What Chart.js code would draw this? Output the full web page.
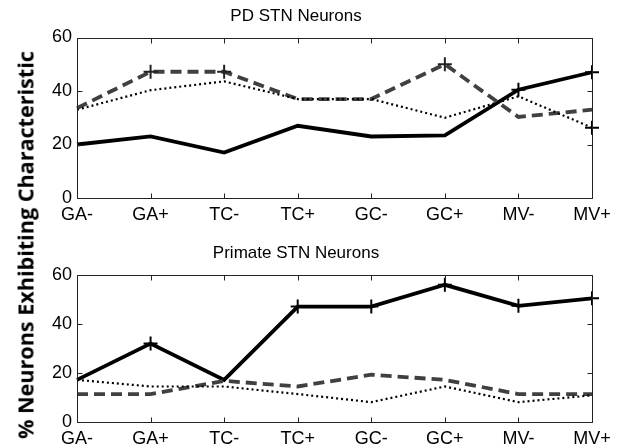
<!DOCTYPE html>
<html><head><meta charset="utf-8">
<script src="https://cdn.jsdelivr.net/npm/chart.js@4/dist/chart.umd.min.js"></script>
<style>
body{margin:0;background:#fff;width:627px;height:448px;overflow:hidden;position:relative;}
.wrap{position:absolute;left:0;width:627px;height:224px;}
#ylab{position:absolute;left:25px;top:245px;transform:translate(-50%,-50%) rotate(-90deg);white-space:nowrap;font-weight:bold;font-family:"Open Sans",sans-serif;color:#000;}
</style>
</head><body>
<div class="wrap" style="top:0"><canvas id="c1" width="627" height="224"></canvas></div>
<div class="wrap" style="top:224px"><canvas id="c2" width="627" height="224"></canvas></div>
<div id="ylab">% Neurons Exhibiting Characteristic</div>
<script>
const categories = ["GA-","GA+","TC-","TC+","GC-","GC+","MV-","MV+"];
const yTicks = [0,20,40,60];

const pdTitle = "PD STN Neurons";
const pdSolid  = [20, 23, 17, 27, 23, 23.4, 40.5, 47];
const pdDashed = [33.6, 47.2, 47.2, 37, 37, 50, 30.3, 33];
const pdDotted = [33, 40.3, 43.6, 37, 37, 30, 38, 26.3];
const pdSolidMarks  = [6, 7];
const pdDashedMarks = [1, 2, 5];
const pdDottedMarks = [7];

const prTitle = "Primate STN Neurons";
const prSolid  = [17.2, 32, 17.2, 47.1, 47.1, 56, 47.4, 50.5];
const prDashed = [11.4, 11.4, 16.8, 14.5, 19.3, 17.2, 11.4, 11.4];
const prDotted = [17.2, 14.5, 14.5, 11.4, 8.1, 14.5, 8.1, 10.9];
const prSolidMarks  = [1, 3, 4, 5, 6, 7];
const prDashedMarks = [];
const prDottedMarks = [];

(function(){
  const el = document.getElementById('ylab');
  const c = document.createElement('canvas').getContext('2d');
  c.font = 'bold 100px "Open Sans"';
  const w = c.measureText(el.textContent).width;
  el.style.fontSize = (100*388/w).toFixed(2)+'px';
})();

const frame = {
  id:'frame',
  afterDraw(chart){
    const ctx = chart.ctx, a = chart.chartArea, x = chart.scales.x, y = chart.scales.y;
    ctx.save();
    ctx.setLineDash([]);
    ctx.globalAlpha = 1;
    ctx.strokeStyle = '#222';
    ctx.lineWidth = 1;
    const L = Math.round(a.left)+0.5, R = Math.round(a.right)+0.5, T = Math.round(a.top)+0.5, B = Math.round(a.bottom)+0.5;
    ctx.beginPath();
    for (let i = 0; i < x.ticks.length; i++){
      const px = Math.round(x.getPixelForTick(i))+0.5;
      ctx.moveTo(px, B); ctx.lineTo(px, B-5);
      ctx.moveTo(px, T); ctx.lineTo(px, T+5);
    }
    for (let i = 0; i < y.ticks.length; i++){
      const py = Math.round(y.getPixelForTick(i))+0.5;
      ctx.moveTo(L, py); ctx.lineTo(L+5, py);
      ctx.moveTo(R, py); ctx.lineTo(R-5, py);
    }
    ctx.moveTo(L,T); ctx.lineTo(R,T); ctx.lineTo(R,B); ctx.lineTo(L,B); ctx.closePath();
    ctx.stroke();
    ctx.restore();
  }
};

function markRadius(marks){ return c => marks.includes(c.dataIndex) ? 7 : 0; }

function make(id, title, solid, dashed, dotted, sm, dm, om, padTop, titlePadBottom){
  return new Chart(document.getElementById(id), {
    type:'line',
    data:{
      labels: categories,
      datasets:[
        {data: dotted, borderColor:'#000', borderWidth:2.2, borderDash:[2,3], pointStyle:'cross',
         pointRadius: markRadius(om), pointBorderColor:'#000', pointBorderWidth:2, tension:0, clip:false},
        {data: dashed, borderColor:'#404040', borderWidth:3.8, borderDash:[11,6], pointStyle:'cross',
         pointRadius: markRadius(dm), pointBorderColor:'#222', pointBorderWidth:2, tension:0, clip:false},
        {data: solid, borderColor:'#000', borderWidth:3.8, pointStyle:'cross',
         pointRadius: markRadius(sm), pointBorderColor:'#000', pointBorderWidth:2, tension:0, clip:false}
      ]
    },
    options:{
      responsive:false, animation:false, events:[],
      layout:{padding:{left:0, right:35, top:padTop, bottom:0}},
      plugins:{
        legend:{display:false}, tooltip:{enabled:false},
        title:{display:true, text:title, color:'#000',
               font:{family:'"Liberation Sans", Arial, sans-serif', size:17, weight:'normal', lineHeight:1.2},
               padding:{top:0, bottom:titlePadBottom}}
      },
      scales:{
        x:{type:'category', offset:false,
           grid:{display:false, drawTicks:false}, border:{display:false},
           ticks:{color:'#000', padding:6, maxRotation:0, autoSkip:false,
                  font:{family:'"Liberation Sans", Arial, sans-serif', size:18}},
           afterFit(s){ s.height = 26; }},
        y:{min:0, max:60,
           grid:{display:false, drawTicks:false}, border:{display:false},
           afterBuildTicks(s){ s.ticks = yTicks.map(v=>({value:v})); },
           ticks:{color:'#000', padding:5,
                  font:{family:'"Liberation Sans", Arial, sans-serif', size:18}},
           afterFit(s){ s.width = 77; }}
      }
    },
    plugins:[frame]
  });
}

make('c1', pdTitle, pdSolid, pdDashed, pdDotted, pdSolidMarks, pdDashedMarks, pdDottedMarks, 6.5, 10.6);
make('c2', prTitle, prSolid, prDashed, prDotted, prSolidMarks, prDashedMarks, prDottedMarks, 18.8, 11.8);
</script>
</body></html>
